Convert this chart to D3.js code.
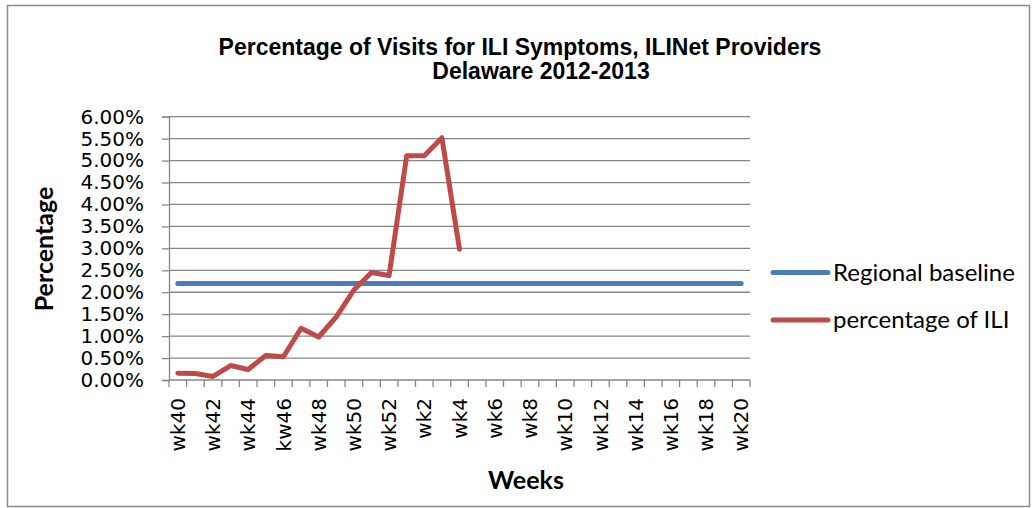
<!DOCTYPE html>
<html>
<head>
<meta charset="utf-8">
<script src="https://cdn.jsdelivr.net/npm/d3@7"></script>
<style>
  body { margin: 0; background: #fff; }
  svg { display: block; }
</style>
</head>
<body>
<script>
// week categories, 2012 wk40 .. 2013 wk20
var weeks = ["wk40", "wk41", "wk42", "wk43", "wk44", "wk45", "kw46", "wk47", "wk48", "wk49",
    "wk50", "wk51", "wk52", "wk1", "wk2", "wk3", "wk4", "wk5", "wk6", "wk7", "wk8", "wk9",
    "wk10", "wk11", "wk12", "wk13", "wk14", "wk15", "wk16", "wk17", "wk18", "wk19", "wk20"];

// percentage of ILI (only reported through wk4)
var iliValues = [0.152, 0.15, 0.08, 0.33, 0.24, 0.56, 0.53, 1.18, 0.98, 1.44,
    2.05, 2.45, 2.38, 5.11, 5.11, 5.52, 2.98];

var baselineValue = 2.2;
var baselineValues = weeks.map(() => baselineValue);

var yTicks = [0, 0.5, 1, 1.5, 2, 2.5, 3, 3.5, 4, 4.5, 5, 5.5, 6];

var seriesNames = ["Regional baseline", "percentage of ILI"];
var seriesColors = ["#4a7ebb", "#be4b48"];

var W = 1036, H = 508;
var margin = { top: 116.7, left: 169, right: W - 750, bottom: H - 380 };
var width = W - margin.left - margin.right,
    height = H - margin.top - margin.bottom;

var svg = d3.select("body").append("svg")
    .attr("width", W)
    .attr("height", H);

// chart border
svg.append("rect")
    .attr("x", 7.5).attr("y", 5.5)
    .attr("width", 1022).attr("height", 501)
    .attr("fill", "none")
    .attr("stroke", "#8a8a8a")
    .attr("stroke-width", 1.5);

// title
var title = svg.append("g")
    .style("font-family", "'Liberation Sans', Arial, sans-serif")
    .style("font-weight", "bold")
    .style("font-size", "23px")
    .attr("fill", "#000");
title.append("text")
    .attr("x", 520).attr("y", 55)
    .attr("text-anchor", "middle")
    .text("Percentage of Visits for ILI Symptoms, ILINet Providers");
title.append("text")
    .attr("x", 541).attr("y", 79)
    .attr("text-anchor", "middle")
    .text("Delaware 2012-2013");

var g = svg.append("g")
    .attr("transform", "translate(" + margin.left + "," + margin.top + ")");

var x = d3.scaleBand().domain(weeks).range([0, width]);
var y = d3.scaleLinear().domain([0, 6]).range([height, 0]);

// horizontal gridlines
g.append("g")
    .selectAll("line")
    .data(yTicks.slice(1))
    .join("line")
    .attr("x1", 0).attr("x2", width)
    .attr("y1", d => y(d)).attr("y2", d => y(d))
    .attr("stroke", "#868686")
    .attr("stroke-width", 1.3);

// y axis
var yAxis = g.append("g")
    .call(d3.axisLeft(y).tickValues(yTicks).tickSize(7).tickPadding(18)
        .tickFormat(d => d.toFixed(2) + "%"));
yAxis.select(".domain").attr("stroke", "#868686").attr("stroke-width", 1.3);
yAxis.selectAll(".tick line").attr("stroke", "#868686").attr("stroke-width", 1.3);
yAxis.selectAll("text")
    .style("font-family", "'DejaVu Sans', sans-serif")
    .style("font-size", "20px")
    .attr("fill", "#000");

// x axis: ticks at category boundaries, label every other week
var xAxis = g.append("g")
    .attr("transform", "translate(0," + height + ")");
xAxis.append("line")
    .attr("x1", 0).attr("x2", width)
    .attr("stroke", "#868686").attr("stroke-width", 1.3);
xAxis.selectAll(".xtick")
    .data(weeks.concat(["end"]))
    .join("line")
    .attr("class", "xtick")
    .attr("x1", (d, i) => i * x.step()).attr("x2", (d, i) => i * x.step())
    .attr("y1", 0).attr("y2", 7)
    .attr("stroke", "#868686").attr("stroke-width", 1.3);
xAxis.selectAll(".xlabel")
    .data(weeks.filter((d, i) => i % 2 === 0))
    .join("text")
    .attr("class", "xlabel")
    .attr("transform", d => "translate(" + (x(d) + x.bandwidth() / 2) + ",18) rotate(-90)")
    .attr("dy", "0.36em")
    .attr("text-anchor", "end")
    .style("font-family", "'DejaVu Sans', sans-serif")
    .style("font-size", "20px")
    .attr("fill", "#000")
    .text(d => d);

// axis titles
svg.append("text")
    .attr("transform", "translate(53,249) rotate(-90)")
    .attr("text-anchor", "middle")
    .style("font-family", "Lato, 'Open Sans', sans-serif")
    .style("font-weight", "bold")
    .style("font-size", "25px")
    .attr("fill", "#000")
    .text("Percentage");

svg.append("text")
    .attr("x", 526).attr("y", 489)
    .attr("text-anchor", "middle")
    .style("font-family", "Lato, 'Open Sans', sans-serif")
    .style("font-weight", "bold")
    .style("font-size", "25px")
    .attr("fill", "#000")
    .text("Weeks");

// lines
var line = d3.line()
    .x((d, i) => x(weeks[i]) + x.bandwidth() / 2)
    .y(d => y(d));

g.append("path")
    .datum(baselineValues)
    .attr("fill", "none")
    .attr("stroke", seriesColors[0])
    .attr("stroke-width", 5)
    .attr("stroke-linecap", "round")
    .attr("stroke-linejoin", "round")
    .attr("d", line);

g.append("path")
    .datum(iliValues)
    .attr("fill", "none")
    .attr("stroke", seriesColors[1])
    .attr("stroke-width", 5)
    .attr("stroke-linecap", "round")
    .attr("stroke-linejoin", "round")
    .attr("d", line);

// legend
var legend = svg.append("g").attr("transform", "translate(773,272.5)");
var items = legend.selectAll("g")
    .data(seriesNames)
    .join("g")
    .attr("transform", (d, i) => "translate(0," + i * 47.5 + ")");
items.append("line")
    .attr("x1", 0).attr("x2", 55)
    .attr("stroke", (d, i) => seriesColors[i])
    .attr("stroke-width", 5)
    .attr("stroke-linecap", "round");
items.append("text")
    .attr("x", 60)
    .attr("dy", "0.35em")
    .style("font-family", "Lato, 'Open Sans', sans-serif")
    .style("font-size", "24px")
    .attr("fill", "#000")
    .text(d => d);
</script>
</body>
</html>
